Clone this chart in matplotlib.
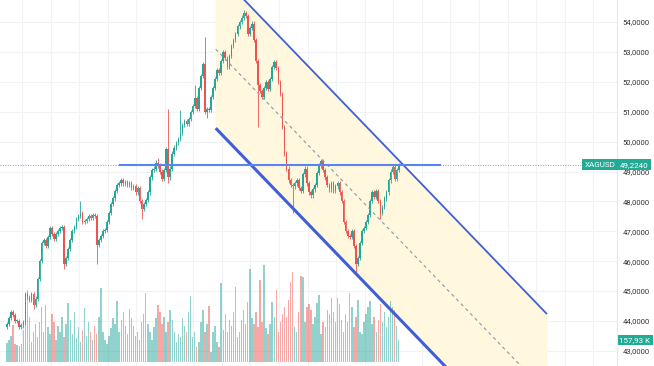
import matplotlib
matplotlib.use("Agg")
import matplotlib.pyplot as plt
import matplotlib.transforms as mtransforms
from matplotlib.patches import Polygon
from matplotlib.lines import Line2D
import numpy as np

plt.rcParams["font.family"] = ["Roboto", "DejaVu Sans"]

# XAGUSD candles (close of each bar)
closes = [
    43.9, 44.1, 44.3, 44.2, 44.0, 44.0, 43.8, 43.85, 43.95, 44.9,
    44.8, 44.7, 44.9, 44.55, 44.75, 45.4, 46.0, 46.6, 46.7, 46.5,
    46.8, 47.1, 46.9, 46.75, 46.9, 47.0, 47.1, 47.15, 45.9, 46.1,
    46.4, 46.7, 47.0, 47.15, 47.4, 47.5, 47.6, 47.3, 47.35, 47.4,
    47.5, 47.45, 47.55, 47.5, 46.55, 46.7, 46.85, 47.0, 47.05, 47.3,
    47.6, 47.9, 48.1, 48.35, 48.55, 48.6, 48.7, 48.6, 48.65, 48.55,
    48.6, 48.45, 48.5, 48.3, 48.45, 48.0, 47.75, 47.9, 48.05, 48.3,
    48.8, 49.05, 49.1, 49.3, 49.2, 49.0, 48.75, 49.05, 49.75, 48.8,
    49.1, 49.6, 49.8, 49.95, 50.1, 50.3, 50.55, 50.7, 50.6, 50.75,
    51.0, 51.2, 51.45, 51.1, 51.8, 52.2, 52.6, 51.0, 51.1, 51.05,
    51.5, 51.8, 52.1, 52.4, 52.3, 52.7, 53.0, 52.8, 52.5, 52.85,
    53.2, 53.4, 53.6, 53.85, 54.0, 54.15, 54.3, 54.2, 53.6, 53.8,
    53.95, 53.4, 52.7, 51.9, 51.7, 51.5, 51.8, 52.0, 51.75, 52.1,
    52.5, 52.65, 52.45, 52.0, 51.6, 50.5, 49.6, 49.1, 48.7, 48.55,
    48.5, 48.6, 48.7, 48.45, 48.35, 48.9, 49.1, 48.6, 48.3, 48.2,
    48.4, 48.55, 48.95, 49.2, 49.35, 49.05, 48.8, 48.55, 48.4, 48.6,
    48.35, 48.5, 48.6, 48.3, 48.0, 47.3, 47.0, 46.85, 46.8, 47.0,
    46.5, 45.9, 46.1, 46.6, 47.0, 47.1, 47.3, 47.55, 48.0, 48.3,
    48.15, 48.35, 48.0, 47.6, 47.8, 48.1, 48.3, 48.7, 49.0, 49.15,
    48.75, 49.05, 49.224,
]
first_open = 43.8
# long wicks (bar index -> price)
wick_highs = {36: 48.0, 74: 49.45, 79: 51.1, 85: 51.05, 92: 51.9, 97: 53.5, 116: 54.4}
wick_lows = {13: 44.4, 28: 45.75, 44: 45.9, 66: 47.4, 79: 48.6, 98: 50.8,
             123: 50.5, 140: 47.6, 171: 45.6, 183: 47.4}

# volume in thousands
volumes = [
    137, 158, 187, 266, 130, 122, 115, 130, 230, 324,
    518, 324, 144, 216, 274, 180, 288, 396, 216, 410,
    252, 202, 346, 288, 158, 259, 216, 324, 180, 274,
    425, 302, 202, 360, 173, 252, 144, 230, 389, 187,
    288, 216, 158, 259, 202, 324, 533, 216, 158, 130,
    187, 245, 317, 274, 439, 216, 302, 360, 259, 202,
    382, 317, 259, 187, 216, 158, 288, 346, 497, 274,
    216, 158, 252, 317, 410, 360, 274, 324, 216, 288,
    374, 302, 216, 144, 202, 180, 317, 259, 216, 360,
    475, 180, 216, 108, 144, 288, 374, 216, 274, 403,
    72, 216, 259, 144, 108, 569, 230, 346, 216, 302,
    259, 360, 540, 180, 216, 302, 374, 274, 432, 670,
    317, 274, 360, 252, 590, 288, 698, 245, 202, 274,
    432, 324, 518, 216, 288, 346, 396, 324, 446, 576,
    648, 252, 216, 360, 619, 612, 288, 396, 418, 374,
    274, 324, 425, 482, 202, 288, 252, 374, 346, 461,
    360, 288, 461, 418, 302, 216, 346, 288, 497, 396,
    252, 324, 446, 216, 202, 288, 346, 396, 439, 274,
    324, 216, 302, 418, 288, 360, 252, 324, 439, 396,
    374, 259, 157.93,
]

price_ticks = [43, 44, 45, 46, 47, 48, 49, 50, 51, 52, 53, 54]
last_price = 49.224
hline_price = 49.22
hline_x = [55.4, 212.3]
channel_x = [102.3, 264.7]
channel_top = [55.73, 44.23]
channel_bottom = [50.45, 38.95]

UP = "#26a69a"
DOWN = "#ef5350"
BLUE = "#3f5fd8"
LABEL = "#22ab94"

opens = [first_open] + closes[:-1]
xs = np.arange(len(closes))

fig = plt.figure(figsize=(6.54, 3.66), dpi=100)
vax = fig.add_axes([0, 0, 617 / 654, 1])
ax = vax.twinx()
ax.set_xlim(-3.43, 299.0)
ax.set_ylim(42.495, 54.736)
vax.set_ylim(-28.7, 2599)
ax.patch.set_visible(False)

# grid (drawn under everything, in price coordinates)
for p in price_ticks:
    vax.add_line(Line2D([-10, 310], [p, p], color="#f0f2f6", lw=0.8,
                        transform=ax.transData, zorder=0))
for gx in np.arange(7.35, 299, 14):
    vax.axvline(gx, color="#f0f2f6", lw=0.8, zorder=0)

# channel fill
poly = Polygon([(channel_x[0], channel_bottom[0]), (channel_x[0], channel_top[0]),
                (channel_x[1], channel_top[1]), (channel_x[1], channel_bottom[1])],
               closed=True, facecolor="#fff8de", edgecolor="none",
               transform=ax.transData, zorder=1)
vax.add_patch(poly)

# volume
vcolors = [UP if c >= o else DOWN for o, c in zip(opens, closes)]
vax.bar(xs, volumes, width=0.72, color=vcolors, alpha=0.5, zorder=2, linewidth=0)

# last price dotted line
ax.axhline(last_price, color=UP, lw=0.6, ls=(0, (1, 2)), zorder=2)

# candles
for i, (o, c) in enumerate(zip(opens, closes)):
    col = UP if c >= o else DOWN
    hi = wick_highs.get(i, max(o, c) + 0.07)
    lo = wick_lows.get(i, min(o, c) - 0.07)
    ax.vlines(i, lo, hi, color=col, lw=0.6, zorder=3)
    h = c - o if abs(c - o) > 0.03 else 0.03
    ax.bar(i, h, bottom=o, width=0.8, color=col, linewidth=0, zorder=4)

# channel lines
mid = [(a + b) / 2 for a, b in zip(channel_top, channel_bottom)]
ax.plot(channel_x, channel_top, color=BLUE, lw=1.3, zorder=5, solid_capstyle="butt")
ax.plot(channel_x, channel_bottom, color=BLUE, lw=2.2, zorder=5, solid_capstyle="butt")
ax.plot(channel_x, mid, color="#8f96a8", lw=0.8, ls=(0, (3, 3)), zorder=5)

# horizontal level
ax.plot(hline_x, [hline_price, hline_price], color="#5b84ee", lw=1.5, zorder=5)

# axes styling
for s in ["top", "left", "bottom"]:
    ax.spines[s].set_visible(False)
    vax.spines[s].set_visible(False)
ax.spines["right"].set_color("#e6e8ee")
ax.spines["right"].set_linewidth(0.8)
vax.spines["right"].set_visible(False)
vax.set_yticks([])
vax.set_xticks([])
ax.set_xticks([])
ax.set_yticks(price_ticks)
ax.set_yticklabels([f"{p},0000" for p in price_ticks])
ax.tick_params(axis="y", length=0, pad=4, labelsize=5.5, labelcolor="#333333")

# price / volume labels on the right
tr = mtransforms.blended_transform_factory(ax.transAxes, ax.transData)
box = dict(boxstyle="square,pad=0.3", fc=LABEL, ec="none")
ax.text(1.004, last_price, "49,2240", transform=tr, ha="left", va="center",
        fontsize=5.8, color="white", bbox=box, zorder=10, clip_on=False)
ax.text(0.998, last_price, "XAGUSD", transform=tr, ha="right", va="center",
        fontsize=5.8, color="white", bbox=box, zorder=10, clip_on=False)
vtr = mtransforms.blended_transform_factory(vax.transAxes, vax.transData)
vax.text(1.004, volumes[-1], "157,93 K", transform=vtr, ha="left", va="center",
         fontsize=5.8, color="white", bbox=box, zorder=10, clip_on=False)

fig.savefig("out.png", dpi=100)
